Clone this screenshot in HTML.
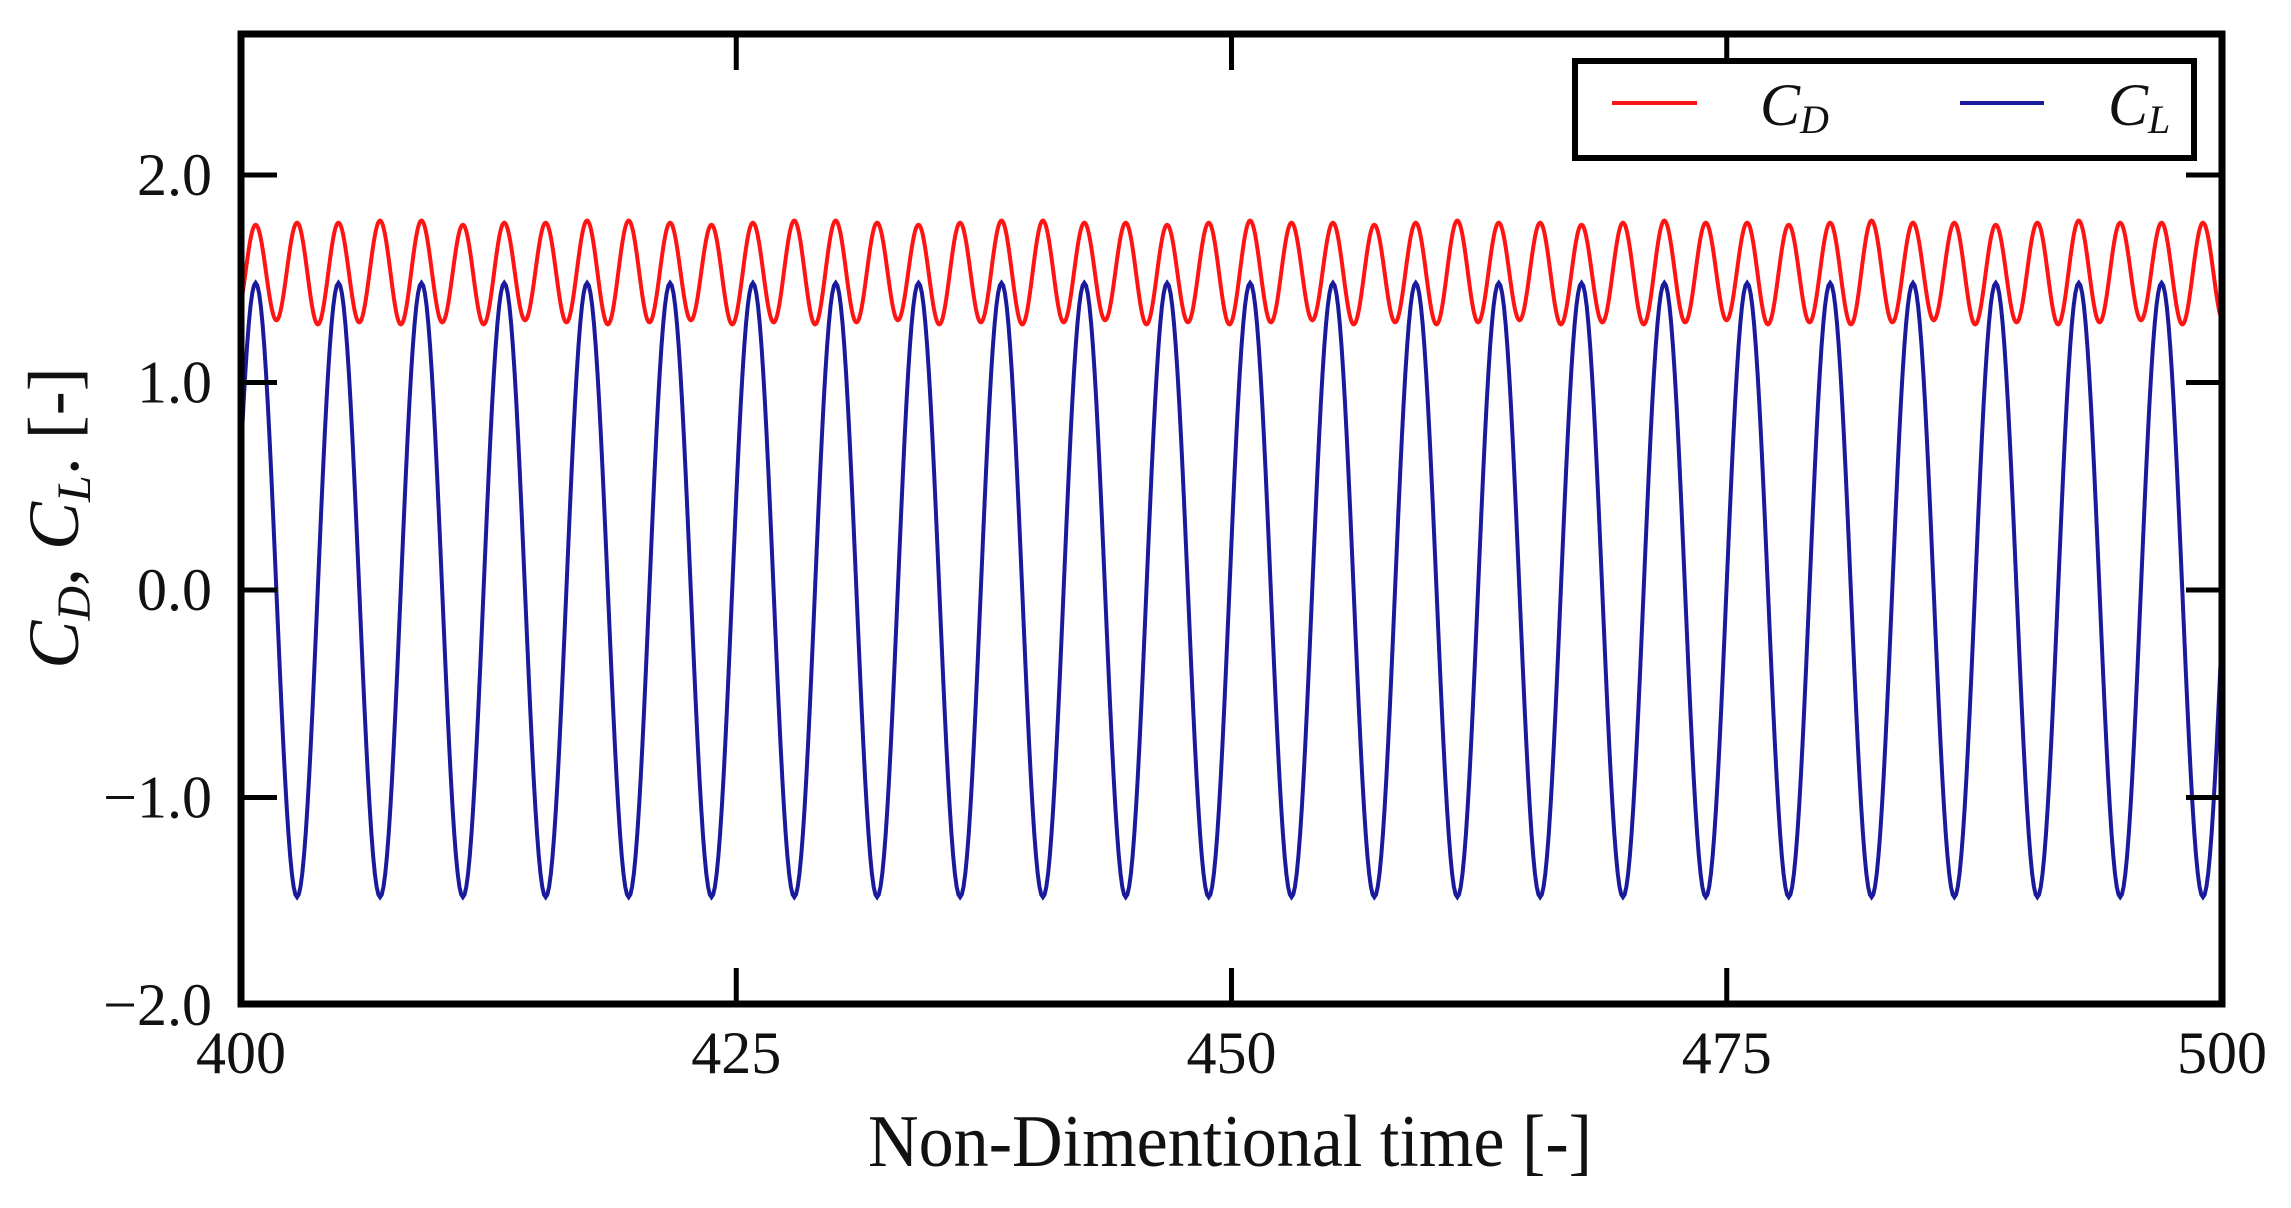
<!DOCTYPE html>
<html><head><meta charset="utf-8"><style>
html,body{margin:0;padding:0;background:#fff;}
svg{display:block;}
text{font-family:"Liberation Serif",serif;fill:#111;}
</style></head><body>
<svg id="chart" width="2291" height="1208" viewBox="0 0 2291 1208" xmlns="http://www.w3.org/2000/svg">
<defs><clipPath id="plotclip"><rect x="241" y="34" width="1981" height="970"/></clipPath></defs>
<g id="series" clip-path="url(#plotclip)"></g>
<g id="axes"></g>
<text x="1230" y="1166" font-size="74" text-anchor="middle" textLength="724" lengthAdjust="spacingAndGlyphs">Non-Dimentional time [-]</text>
<text transform="translate(78,518) rotate(-90)" font-size="72" text-anchor="middle"><tspan font-style="italic">C</tspan><tspan font-style="italic" font-size="48" dy="12">D</tspan><tspan dy="-12">, </tspan><tspan font-style="italic">C</tspan><tspan font-style="italic" font-size="48" dy="12">L</tspan><tspan dy="-12">. [-]</tspan></text>
<g>
<rect x="1575" y="61" width="619" height="97" fill="#fff" stroke="#000" stroke-width="6"/>
<line x1="1612" y1="103" x2="1697" y2="103" stroke="#ff1414" stroke-width="4"/>
<text x="1760" y="125" font-size="60" font-style="italic">C<tspan font-size="40" dy="8">D</tspan></text>
<line x1="1960" y1="103" x2="2044" y2="103" stroke="#1a1a9c" stroke-width="4"/>
<text x="2108" y="125" font-size="60" font-style="italic">C<tspan font-size="40" dy="8">L</tspan></text>
</g>
</svg>
<script>
// ---- data (extrema) ----
const xTicks = [400, 425, 450, 475, 500];
const yTicks = [-2.0, -1.0, 0.0, 1.0, 2.0];
const yTickLabels = ["\u22122.0", "\u22121.0", "0.0", "1.0", "2.0"];
const clPeakT = [400.74,404.92,409.11,413.29,417.47,421.66,425.84,430.02,434.20,438.39,442.57,446.75,450.94,455.12,459.30,463.49,467.67,471.85,476.03,480.22,484.40,488.58,492.77,496.95,501.13];
const clPeakV = [1.48,1.48,1.48,1.48,1.48,1.48,1.48,1.48,1.48,1.48,1.48,1.48,1.48,1.48,1.48,1.48,1.48,1.48,1.48,1.48,1.48,1.48,1.48,1.48,1.48];
const clTroughT = [398.65,402.83,407.02,411.20,415.38,419.57,423.75,427.93,432.11,436.30,440.48,444.66,448.85,453.03,457.21,461.40,465.58,469.76,473.94,478.13,482.31,486.49,490.68,494.86,499.04,503.22];
const clTroughV = [-1.48,-1.48,-1.48,-1.48,-1.48,-1.48,-1.48,-1.48,-1.48,-1.48,-1.48,-1.48,-1.48,-1.48,-1.48,-1.48,-1.48,-1.48,-1.48,-1.48,-1.48,-1.48,-1.48,-1.48,-1.48,-1.48];
const cdPeakT = [398.65,400.74,402.83,404.92,407.02,409.11,411.20,413.29,415.38,417.47,419.57,421.66,423.75,425.84,427.93,430.02,432.11,434.20,436.30,438.39,440.48,442.57,444.66,446.75,448.85,450.94,453.03,455.12,457.21,459.30,461.40,463.49,465.58,467.67,469.76,471.85,473.94,476.03,478.13,480.22,482.31,484.40,486.49,488.58,490.68,492.77,494.86,496.95,499.04,501.13,503.22];
const cdPeakV = [1.77,1.76,1.77,1.77,1.78,1.78,1.76,1.77,1.77,1.78,1.78,1.77,1.76,1.77,1.78,1.78,1.77,1.76,1.77,1.78,1.78,1.77,1.77,1.76,1.77,1.78,1.77,1.77,1.76,1.77,1.78,1.77,1.77,1.76,1.77,1.78,1.77,1.77,1.76,1.77,1.78,1.77,1.77,1.76,1.77,1.78,1.77,1.77,1.77,1.77,1.77];
const cdTroughT = [399.70,401.79,403.88,405.97,408.07,410.16,412.25,414.34,416.43,418.52,420.62,422.71,424.80,426.89,428.98,431.07,433.16,435.25,437.35,439.44,441.53,443.62,445.71,447.80,449.90,451.99,454.08,456.17,458.26,460.35,462.45,464.54,466.63,468.72,470.81,472.90,474.99,477.08,479.18,481.27,483.36,485.45,487.54,489.63,491.73,493.82,495.91,498.00,500.09,502.18];
const cdTroughV = [1.29,1.30,1.28,1.29,1.28,1.29,1.28,1.30,1.29,1.28,1.29,1.30,1.28,1.29,1.28,1.29,1.30,1.28,1.29,1.28,1.29,1.30,1.28,1.29,1.28,1.29,1.30,1.28,1.29,1.28,1.29,1.30,1.28,1.29,1.28,1.29,1.30,1.28,1.29,1.28,1.29,1.30,1.28,1.29,1.28,1.29,1.30,1.28,1.29,1.29];

// ---- axes ----
const X0 = 241, X1 = 2222, Y0 = 590, YU = 207.5, YTOP = 34, YBOT = 1004;
const xScale = t => X0 + (t - 400) / 100 * (X1 - X0);
const yScale = v => Y0 - v * YU;
const NS = "http://www.w3.org/2000/svg";
const axes = document.getElementById('axes');
const series = document.getElementById('series');
function mk(tag, attrs, parent) {
  const e = document.createElementNS(NS, tag);
  for (const k in attrs) e.setAttribute(k, attrs[k]);
  parent.appendChild(e);
  return e;
}
function mergeExtrema(tp, vp, tt, vt) {
  const pts = [];
  tp.forEach((t, i) => pts.push([t, vp[i]]));
  tt.forEach((t, i) => pts.push([t, vt[i]]));
  pts.sort((a, b) => a[0] - b[0]);
  return pts;
}
function pathFrom(pts) {
  let d = '';
  for (let i = 0; i < pts.length - 1; i++) {
    const [t0, v0] = pts[i], [t1, v1] = pts[i + 1];
    const N = 24;
    for (let k = (i === 0 ? 0 : 1); k <= N; k++) {
      const s = k / N;
      const t = t0 + (t1 - t0) * s;
      const v = v0 + (v1 - v0) * (1 - Math.cos(Math.PI * s)) / 2;
      d += (d ? 'L' : 'M') + xScale(t).toFixed(2) + ',' + yScale(v).toFixed(2);
    }
  }
  return d;
}
const cdPath = mk('path', {d: pathFrom(mergeExtrema(cdPeakT, cdPeakV, cdTroughT, cdTroughV)), fill: 'none', stroke: '#ff1414', 'stroke-width': 4}, series);


const clPath = mk('path', {d: pathFrom(mergeExtrema(clPeakT, clPeakV, clTroughT, clTroughV)), fill: 'none', stroke: '#1a1a9c', 'stroke-width': 4}, series);



const frame = mk('rect', {x: X0, y: YTOP, width: X1 - X0, height: YBOT - YTOP, fill: 'none', stroke: '#000', 'stroke-width': 7}, axes);


const TL = 36;
xTicks.forEach(t => {
  const x = xScale(t);
  const a = mk('line', {x1: x, y1: YBOT, x2: x, y2: YBOT - TL, stroke: '#000', 'stroke-width': 5}, axes);
  
  
  const b = mk('line', {x1: x, y1: YTOP, x2: x, y2: YTOP + TL, stroke: '#000', 'stroke-width': 5}, axes);
  
  
  const lb = mk('text', {x: x, y: 1073, 'font-size': 60, 'text-anchor': 'middle'}, axes);
  lb.textContent = String(t);
  
  
});
yTicks.forEach((v, i) => {
  const y = yScale(v);
  const a = mk('line', {x1: X0, y1: y, x2: X0 + TL, y2: y, stroke: '#000', 'stroke-width': 5}, axes);
  
  
  const b = mk('line', {x1: X1, y1: y, x2: X1 - TL, y2: y, stroke: '#000', 'stroke-width': 5}, axes);
  
  
  const lb = mk('text', {x: 212, y: y + 20, 'font-size': 60, 'text-anchor': 'end'}, axes);
  lb.textContent = yTickLabels[i];
  
  
});
</script>
</body></html>
